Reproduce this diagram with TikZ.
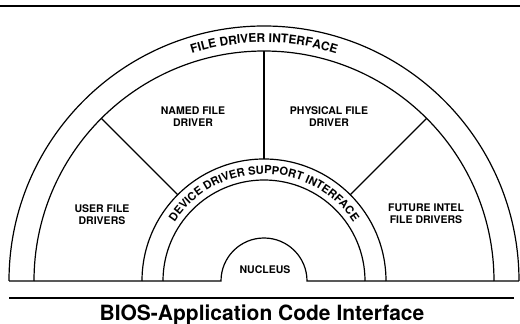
\documentclass[tikz,border=0pt]{standalone}
\usepackage{fontspec}
\setsansfont{TeX Gyre Heros}
\usepackage{tikz}
\usetikzlibrary{calc,decorations.text}

\begin{document}
\begin{tikzpicture}[x=1pt, y=1pt, every node/.style={font=\sffamily\bfseries\fontsize{10.5}{12}\selectfont, align=center}]
    \useasboundingbox (0,0) rectangle (520,324);
    \coordinate (c) at (264,43);
    % rules above and below
    \draw[line width=1.8pt] (0,318) -- (520,318);
    \draw[line width=1.4pt] (9,26) -- (514,26);
    % rings
    \draw[line width=1.2pt] ($(c)+(-255,0)$) -- ($(c)+(-43,0)$) arc (180:0:43) -- ($(c)+(255,0)$);
    \foreach \r in {255,230,122,101}
        \draw[line width=1.2pt] ($(c)+(\r,0)$) arc (0:180:\r);
    \foreach \a in {45,90,135}
        \draw[line width=1.2pt] ($(c)+(\a:122)$) -- ($(c)+(\a:230)$);
    % texts on the rings
    \path[decorate, decoration={text along path, text align=center,
        text={|\sffamily\bfseries\fontsize{12}{12}\selectfont|FILE DRIVER INTERFACE}}]
        ($(c)+(160:238.5)$) arc (160:20:238.5);
    \path[decorate, decoration={text along path, text align=center,
        text={|\sffamily\bfseries\fontsize{11.2}{12}\selectfont|DEVICE DRIVER SUPPORT INTERFACE}}]
        ($(c)+(175:107)$) arc (175:5:107);
    % sectors
    \node (user) at (102,109) {USER FILE\\DRIVERS};
    \node (named) at (193,207) {NAMED FILE\\DRIVER};
    \node (physical) at (329,207) {PHYSICAL FILE\\DRIVER};
    \node (future) at (426,110) {FUTURE INTEL\\FILE DRIVERS};
    \node (nucleus) at (265,54) {NUCLEUS};
    \node[anchor=base, font=\sffamily\bfseries\fontsize{21}{24}\selectfont] (title) at (262,3.5) {BIOS-Application Code Interface};
\end{tikzpicture}
\end{document}
